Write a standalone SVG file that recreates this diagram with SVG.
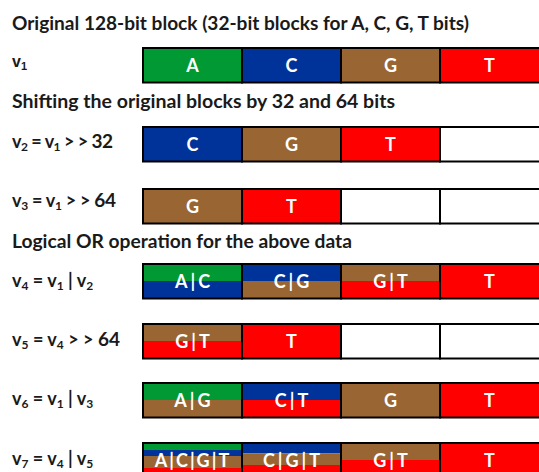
<svg xmlns="http://www.w3.org/2000/svg" width="539" height="472" viewBox="0 0 539 472">
<style>
.t{font-family:Lato,"Liberation Sans",sans-serif;font-weight:bold;font-size:19px;fill:#1a1a1a}
.l{font-family:Lato,"Liberation Sans",sans-serif;font-weight:bold;font-size:18px;fill:#1a1a1a}
.s{font-size:12px}
.n{font-size:19px}
.ct{font-family:Lato,"Liberation Sans",sans-serif;font-weight:bold;font-size:18px;fill:#fff;text-anchor:middle;letter-spacing:3px}
.o{fill:none;stroke:#000;stroke-width:2}
.g{fill:#009933}.b{fill:#003399}.br{fill:#996633}.r{fill:#ff0000}.w{fill:#fff}
</style>
<rect width="539" height="472" fill="#fff"/>
<text class="t" x="12" y="30" textLength="457" lengthAdjust="spacingAndGlyphs">Original 128-bit block (32-bit blocks for A, C, G, T bits)</text>
<text class="t" x="12" y="108" textLength="383" lengthAdjust="spacingAndGlyphs">Shifting the original blocks by 32 and 64 bits</text>
<text class="t" x="12" y="248" textLength="340" lengthAdjust="spacingAndGlyphs">Logical OR operation for the above data</text>

<g id="v1">
<text x="12" y="67" style="font-family:'Liberation Sans',Arial,sans-serif;font-weight:bold;font-size:16px;fill:#1a1a1a">v<tspan dy="3" font-size="11">1</tspan></text>
<rect class="g" x="143" y="48" width="99" height="34.5"/>
<rect class="b" x="242" y="48" width="99" height="34.5"/>
<rect class="br" x="341" y="48" width="99" height="34.5"/>
<rect class="r" x="440" y="48" width="102" height="34.5"/>
<rect class="o" x="143" y="48" width="99" height="34.5"/><rect class="o" x="242" y="48" width="99" height="34.5"/><rect class="o" x="341" y="48" width="99" height="34.5"/><rect class="o" x="440" y="48" width="102" height="34.5"/>
<text class="ct" x="194" y="71.5">A</text><text class="ct" x="293" y="71.5">C</text><text class="ct" x="392" y="71.5">G</text><text class="ct" x="491" y="71.5">T</text>
</g>

<g id="v2">
<text class="l" x="12" y="148" textLength="101" lengthAdjust="spacing">v<tspan class="s" dy="3">2</tspan><tspan dy="-3"> = v</tspan><tspan class="s" dy="3">1</tspan><tspan dy="-3"> &gt; &gt; </tspan><tspan class="n">32</tspan></text>
<rect class="b" x="143" y="127" width="99" height="34.5"/>
<rect class="br" x="242" y="127" width="99" height="34.5"/>
<rect class="r" x="341" y="127" width="99" height="34.5"/>
<rect class="w" x="440" y="127" width="102" height="34.5"/>
<rect class="o" x="143" y="127" width="99" height="34.5"/><rect class="o" x="242" y="127" width="99" height="34.5"/><rect class="o" x="341" y="127" width="99" height="34.5"/><rect class="o" x="440" y="127" width="102" height="34.5"/>
<text class="ct" x="194" y="150.5">C</text><text class="ct" x="293" y="150.5">G</text><text class="ct" x="392" y="150.5">T</text>
</g>

<g id="v3">
<text class="l" x="12" y="207" textLength="104" lengthAdjust="spacing">v<tspan class="s" dy="3">3</tspan><tspan dy="-3"> = v</tspan><tspan class="s" dy="3">1</tspan><tspan dy="-3"> &gt; &gt; </tspan><tspan class="n">64</tspan></text>
<rect class="br" x="143" y="189" width="99" height="34.5"/>
<rect class="r" x="242" y="189" width="99" height="34.5"/>
<rect class="w" x="341" y="189" width="99" height="34.5"/>
<rect class="w" x="440" y="189" width="102" height="34.5"/>
<rect class="o" x="143" y="189" width="99" height="34.5"/><rect class="o" x="242" y="189" width="99" height="34.5"/><rect class="o" x="341" y="189" width="99" height="34.5"/><rect class="o" x="440" y="189" width="102" height="34.5"/>
<text class="ct" x="194" y="212.5">G</text><text class="ct" x="293" y="212.5">T</text>
</g>

<g id="v4">
<text class="l" x="12" y="287">v<tspan class="s" dy="3">4</tspan><tspan dy="-3"> = v</tspan><tspan class="s" dy="3">1</tspan><tspan dy="-3"> | v</tspan><tspan class="s" dy="3">2</tspan></text>
<rect class="g" x="143" y="264" width="99" height="17"/><rect class="b" x="143" y="281" width="99" height="17.5"/>
<rect class="b" x="242" y="264" width="99" height="17"/><rect class="br" x="242" y="281" width="99" height="17.5"/>
<rect class="br" x="341" y="264" width="99" height="17"/><rect class="r" x="341" y="281" width="99" height="17.5"/>
<rect class="r" x="440" y="264" width="102" height="34.5"/>
<rect class="o" x="143" y="264" width="99" height="34.5"/><rect class="o" x="242" y="264" width="99" height="34.5"/><rect class="o" x="341" y="264" width="99" height="34.5"/><rect class="o" x="440" y="264" width="102" height="34.5"/>
<text class="ct" x="194" y="287.5">A|C</text><text class="ct" x="293" y="287.5">C|G</text><text class="ct" x="392" y="287.5">G|T</text><text class="ct" x="491" y="287.5">T</text>
</g>

<g id="v5">
<text class="l" x="12" y="346" textLength="108" lengthAdjust="spacing">v<tspan class="s" dy="3">5</tspan><tspan dy="-3"> = v</tspan><tspan class="s" dy="3">4</tspan><tspan dy="-3"> &gt; &gt; </tspan><tspan class="n">64</tspan></text>
<rect class="br" x="143" y="324" width="99" height="17"/><rect class="r" x="143" y="341" width="99" height="17.5"/>
<rect class="r" x="242" y="324" width="99" height="34.5"/>
<rect class="w" x="341" y="324" width="99" height="34.5"/>
<rect class="w" x="440" y="324" width="102" height="34.5"/>
<rect class="o" x="143" y="324" width="99" height="34.5"/><rect class="o" x="242" y="324" width="99" height="34.5"/><rect class="o" x="341" y="324" width="99" height="34.5"/><rect class="o" x="440" y="324" width="102" height="34.5"/>
<text class="ct" x="194" y="347.5">G|T</text><text class="ct" x="293" y="347.5">T</text>
</g>

<g id="v6">
<text class="l" x="12" y="405">v<tspan class="s" dy="3">6</tspan><tspan dy="-3"> = v</tspan><tspan class="s" dy="3">1</tspan><tspan dy="-3"> | v</tspan><tspan class="s" dy="3">3</tspan></text>
<rect class="g" x="143" y="383" width="99" height="17"/><rect class="br" x="143" y="400" width="99" height="17.5"/>
<rect class="b" x="242" y="383" width="99" height="17"/><rect class="r" x="242" y="400" width="99" height="17.5"/>
<rect class="br" x="341" y="383" width="99" height="34.5"/>
<rect class="r" x="440" y="383" width="102" height="34.5"/>
<rect class="o" x="143" y="383" width="99" height="34.5"/><rect class="o" x="242" y="383" width="99" height="34.5"/><rect class="o" x="341" y="383" width="99" height="34.5"/><rect class="o" x="440" y="383" width="102" height="34.5"/>
<text class="ct" x="194" y="406.5">A|G</text><text class="ct" x="293" y="406.5">C|T</text><text class="ct" x="392" y="406.5">G</text><text class="ct" x="491" y="406.5">T</text>
</g>

<g id="v7">
<text class="l" x="12" y="465">v<tspan class="s" dy="3">7</tspan><tspan dy="-3"> = v</tspan><tspan class="s" dy="3">4</tspan><tspan dy="-3"> | v</tspan><tspan class="s" dy="3">5</tspan></text>
<rect class="g" x="143" y="443" width="99" height="7"/><rect class="b" x="143" y="450" width="99" height="6"/><rect class="br" x="143" y="456" width="99" height="12"/><rect class="r" x="143" y="468" width="99" height="10"/>
<rect class="b" x="242" y="443" width="99" height="10.5"/><rect class="br" x="242" y="453.5" width="99" height="11.5"/><rect class="r" x="242" y="465" width="99" height="13"/>
<rect class="br" x="341" y="443" width="99" height="17"/><rect class="r" x="341" y="460" width="99" height="18"/>
<rect class="r" x="440" y="443" width="102" height="35"/>
<rect class="o" x="143" y="443" width="99" height="34.5"/><rect class="o" x="242" y="443" width="99" height="34.5"/><rect class="o" x="341" y="443" width="99" height="34.5"/><rect class="o" x="440" y="443" width="102" height="34.5"/>
<text class="ct" x="193" y="466.5" style="letter-spacing:2px">A|C|G|T</text><text class="ct" x="293" y="466.5">C|G|T</text><text class="ct" x="392" y="466.5">G|T</text><text class="ct" x="491" y="466.5">T</text>
</g>
</svg>
